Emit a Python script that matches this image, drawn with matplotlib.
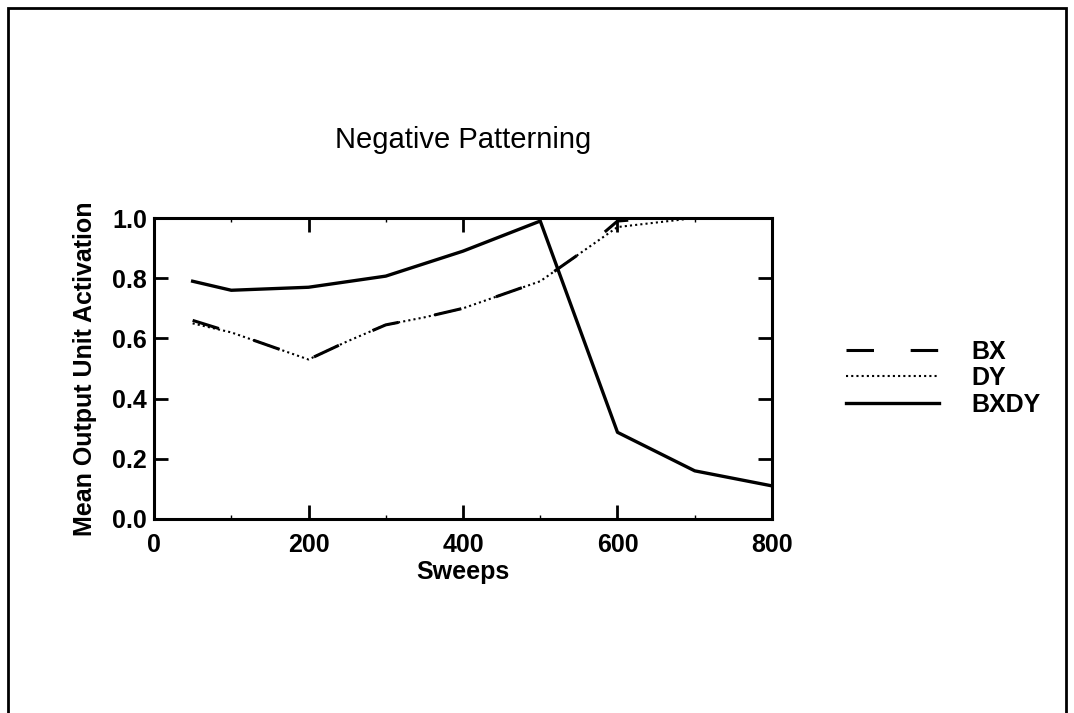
import matplotlib
matplotlib.use("Agg")
import matplotlib.pyplot as plt
from matplotlib.patches import Rectangle
from matplotlib.ticker import MultipleLocator

plt.rcParams["font.family"] = ["Liberation Sans", "DejaVu Sans"]

# data
sweeps = [50, 100, 150, 200, 250, 300, 350, 400, 450, 500, 550, 600, 650, 700, 750, 800]
bx = [0.66, 0.62, 0.575, 0.53, 0.59, 0.645, 0.67, 0.70, 0.745, 0.79, 0.88, 0.99, 1.0, 1.0, 1.0, 1.0]
dy = [0.65, 0.62, 0.575, 0.53, 0.59, 0.645, 0.67, 0.70, 0.745, 0.79, 0.88, 0.97, 0.985, 1.0, 1.0, 1.0]
bxdy_sweeps = [50, 100, 200, 300, 400, 500, 600, 700, 800]
bxdy = [0.79, 0.76, 0.77, 0.807, 0.89, 0.99, 0.288, 0.16, 0.11]

fig = plt.figure(figsize=(10.74, 7.13), dpi=100)
ax = fig.add_axes([0.1434, 0.2721, 0.5754, 0.4221])

ax.plot(sweeps, bx, color="black", linewidth=2.2, linestyle=(0, (9, 12)), label="BX")
ax.plot(sweeps, dy, color="black", linewidth=1.5, linestyle=(0, (1, 1.5)), label="DY")
ax.plot(bxdy_sweeps, bxdy, color="black", linewidth=2.4, label="BXDY")

ax.set_xlim(0, 800)
ax.set_ylim(0, 1.0)
ax.xaxis.set_major_locator(MultipleLocator(200))
ax.yaxis.set_major_locator(MultipleLocator(0.2))
ax.xaxis.set_minor_locator(MultipleLocator(100))
ax.yaxis.set_major_formatter(plt.FormatStrFormatter("%.1f"))
ax.tick_params(which="major", direction="in", length=10, width=2, top=True, right=True,
               labelsize=18)
ax.tick_params(axis="x", which="major", pad=10)
ax.tick_params(axis="y", which="major", pad=5)
ax.tick_params(which="minor", direction="in", length=3, width=1, top=True, right=False, bottom=True)
for lab in ax.get_xticklabels() + ax.get_yticklabels():
    lab.set_fontweight("bold")
for s in ax.spines.values():
    s.set_linewidth(2.2)

ax.set_xlabel("Sweeps", fontsize=18, fontweight="bold", labelpad=2)
ax.set_ylabel("Mean Output Unit Activation", fontsize=18, fontweight="bold", labelpad=11)
fig.text(463 / 1074, 1 - 140 / 713, "Negative Patterning", fontsize=21,
         ha="center", va="center")

ax.legend(loc="center left", bbox_to_anchor=(1.084, 0.468), frameon=False,
          handlelength=3.7, handletextpad=1.3, labelspacing=0.1,
          prop={"weight": "bold", "size": 18})

fig.add_artist(Rectangle((8 / 1074, -0.1), 1058 / 1074, 1.1 - 8 / 713, transform=fig.transFigure,
                         fill=False, edgecolor="black", linewidth=2))

fig.savefig("out.png", dpi=100)
